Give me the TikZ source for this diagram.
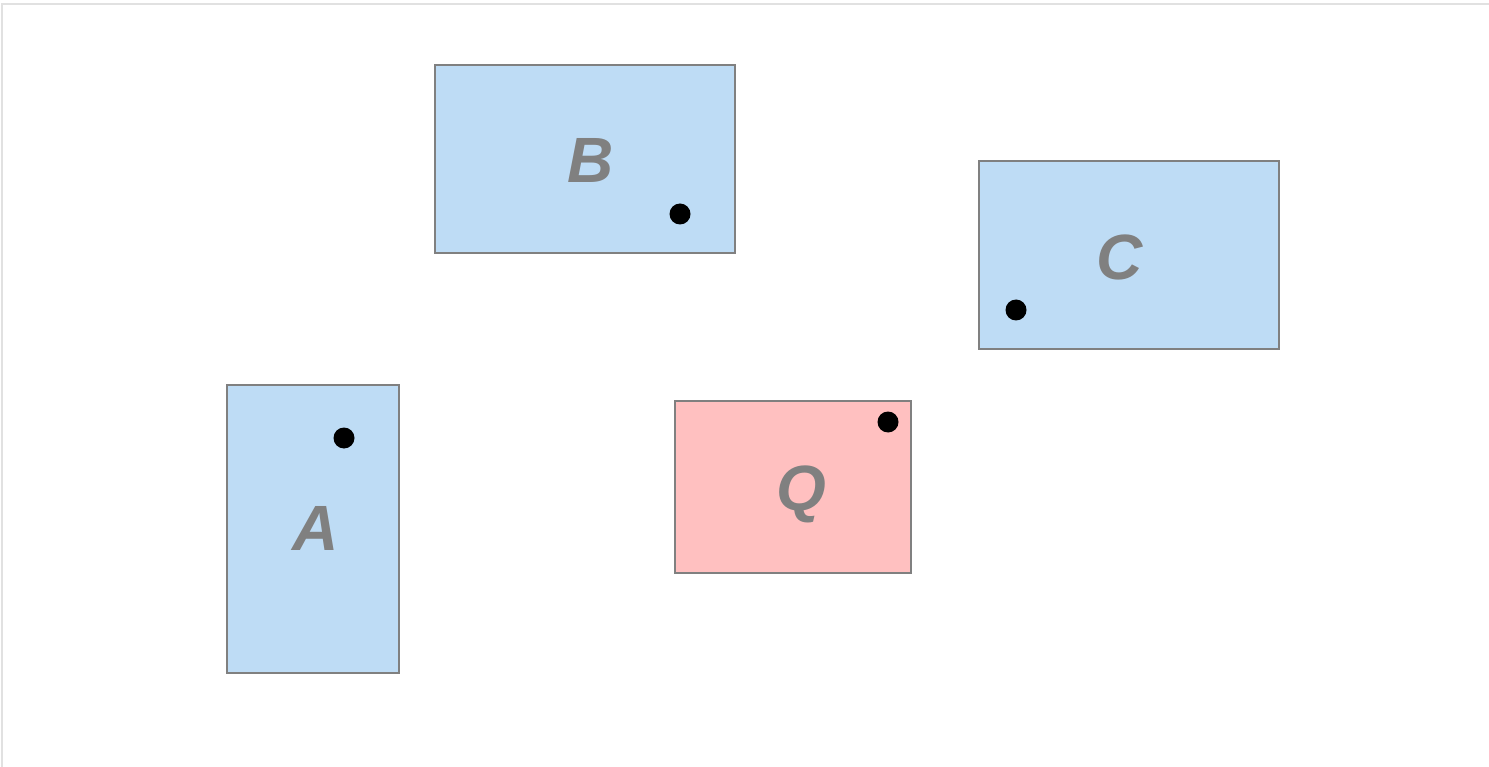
\documentclass[tikz,border=0pt]{standalone}
\usepackage{fontspec}
\setmainfont{Liberation Sans}
\definecolor{boxblue}{RGB}{190,220,245}
\definecolor{boxpink}{RGB}{255,192,192}
\definecolor{edgegray}{RGB}{128,128,128}
\definecolor{framegray}{RGB}{225,225,225}
\tikzset{
  region/.style={draw=edgegray, line width=1.6pt},
  lab/.style={text=edgegray, font=\fontsize{64}{64}\selectfont\bfseries\itshape, inner sep=0pt},
  pt/.style={fill=black, draw=none},
}
\begin{document}
\begin{tikzpicture}[x=1pt,y=-1pt]
\useasboundingbox (0,0) rectangle (1489,767);
\draw[framegray, line width=1.5pt] (2,767) -- (2,4) -- (1489,4);
% boxes
\filldraw[region, fill=boxblue] (435,65) rectangle (735,253);
\filldraw[region, fill=boxblue] (979,161) rectangle (1279,349);
\filldraw[region, fill=boxblue] (227,385) rectangle (399,673);
\filldraw[region, fill=boxpink] (675,401) rectangle (911,573);
% labels
\node[lab] (B) at (591,160) {B};
\node[lab] (C) at (1120,257) {C};
\node[lab] (A) at (316,528) {A};
\node[lab] (Q) at (801,494) {Q};
% dots
\fill[pt] (680,214) circle (10.5);
\fill[pt] (1016,310) circle (10.5);
\fill[pt] (344,438) circle (10.5);
\fill[pt] (888,422) circle (10.5);
\end{tikzpicture}
\end{document}
